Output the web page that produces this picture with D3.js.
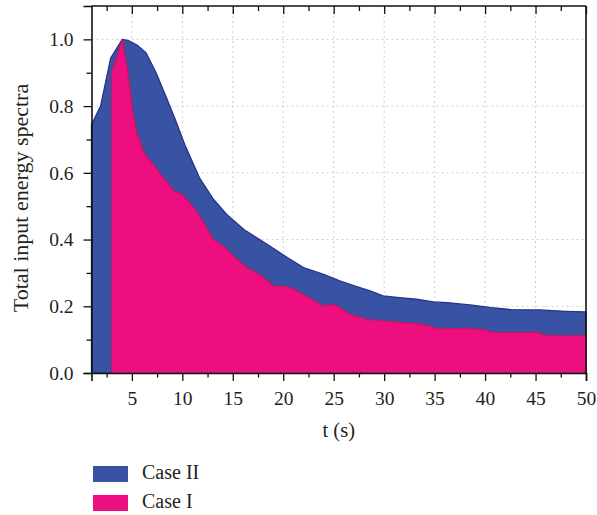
<!DOCTYPE html>
<html>
<head>
<meta charset="utf-8">
<script src="https://cdn.jsdelivr.net/npm/d3@7"></script>
<style>
  body { margin: 0; background: #fff; }
  svg { display: block; }
  text { font-family: 'Liberation Serif', 'Times New Roman', serif; fill: #231f20; }
</style>
</head>
<body>
<div id="chart"></div>
<script>
// Case II (blue, upper envelope)
const caseIIt = [1, 1.9, 2.9, 4.05, 4.7, 5.5, 6.4, 7.4, 8.5, 9.3, 10.3, 11.7, 13.1, 14.4, 16.1, 18.4,
  20.4, 22.0, 24.0, 25.6, 26.6, 28.6, 29.9, 31.5, 33.2, 34.9, 36.2, 38.5, 40.6, 42.6, 45.4, 48, 50];
const caseIIv = [0.744, 0.80, 0.944, 1.0, 0.996, 0.983, 0.96, 0.90, 0.82, 0.76, 0.68, 0.585, 0.52, 0.475, 0.43, 0.386,
  0.346, 0.316, 0.296, 0.276, 0.266, 0.246, 0.231, 0.226, 0.221, 0.213, 0.211, 0.204, 0.196, 0.190, 0.189, 0.185, 0.183];

// Case I (pink) starts at t = 3 s
const caseIt = [3.0, 4.05, 4.6, 5.1, 5.5, 6.2, 7.0, 8.0, 9.2, 10.0, 11.3, 12.3, 13.1, 14.1, 15.1, 16.4, 17.6,
  19.1, 20.4, 21.4, 22.8, 24.0, 25.0, 25.6, 26.6, 28.3, 29.9, 31.5, 33.2, 34.6, 35.2, 38.5, 40.1, 40.8, 45.1, 46.2, 50];
const caseIv = [0.90, 1.0, 0.90, 0.78, 0.72, 0.66, 0.63, 0.59, 0.545, 0.535, 0.49, 0.44, 0.40, 0.38, 0.35, 0.316, 0.296,
  0.26, 0.259, 0.246, 0.221, 0.201, 0.206, 0.196, 0.176, 0.161, 0.156, 0.152, 0.149, 0.141, 0.134, 0.133, 0.129, 0.122, 0.122, 0.112, 0.112];

// Ticks
const xMajor = [5, 10, 15, 20, 25, 30, 35, 40, 45, 50];
const xMinor = [2.5, 7.5, 12.5, 17.5, 22.5, 27.5, 32.5, 37.5, 42.5, 47.5];
const yMajor = [0, 0.2, 0.4, 0.6, 0.8, 1.0];
const yMinor = [0.1, 0.3, 0.5, 0.7, 0.9];

const seriesNames = ['Case II', 'Case I'];
const fillColors = ['#3953a4', '#ed0f80'];
const strokeColors = ['#27328a', '#c2185e'];

const width = 597;
const height = 515;
const margin = { top: 6, right: 11, bottom: 142, left: 91.5 };
const innerW = width - margin.left - margin.right;
const innerH = height - margin.top - margin.bottom;

const svg = d3.select('#chart')
  .append('svg')
  .attr('width', width)
  .attr('height', height);

const g = svg.append('g')
  .attr('transform', `translate(${margin.left},${margin.top})`);

const x = d3.scaleLinear().domain([1, 50]).range([0, innerW]);
const y = d3.scaleLinear().domain([0, 1.1]).range([innerH, 0]);

// dotted grid
g.append('g')
  .selectAll('line')
  .data(xMajor.filter(d => d < 50))
  .enter()
  .append('line')
  .attr('x1', d => x(d)).attr('x2', d => x(d))
  .attr('y1', 0).attr('y2', innerH)
  .attr('stroke', '#cfcfcf')
  .attr('stroke-dasharray', '2,3');

g.append('g')
  .selectAll('line')
  .data(yMajor.filter(d => d > 0))
  .enter()
  .append('line')
  .attr('x1', 0).attr('x2', innerW)
  .attr('y1', d => y(d)).attr('y2', d => y(d))
  .attr('stroke', '#cfcfcf')
  .attr('stroke-dasharray', '2,3');

// areas
const area = d3.area()
  .x(d => x(d[0]))
  .y0(y(0))
  .y1(d => y(d[1]));

const caseII = caseIIt.map((t, i) => [t, caseIIv[i]]);
const caseI = caseIt.map((t, i) => [t, caseIv[i]]);

[caseII, caseI].forEach((data, i) => {
  g.append('path')
    .datum(data)
    .attr('d', area)
    .attr('fill', fillColors[i])
    .attr('stroke', strokeColors[i])
    .attr('stroke-width', 1.3)
    .attr('stroke-linejoin', 'round');
});

// axes
const xAxis = g.append('g')
  .attr('transform', `translate(0,${innerH})`)
  .call(d3.axisBottom(x).tickValues(xMajor).tickSize(8).tickPadding(10));
xAxis.selectAll('text').style('font-size', '19.5px');

g.append('g')
  .attr('transform', `translate(0,${innerH})`)
  .call(d3.axisBottom(x).tickValues(xMinor).tickSize(4.5).tickFormat(''))
  .select('.domain').remove();

const yAxis = g.append('g')
  .call(d3.axisLeft(y).tickValues(yMajor).tickSize(8).tickPadding(10).tickFormat(d3.format('.1f')));
yAxis.selectAll('text').style('font-size', '19.5px');

g.append('g')
  .call(d3.axisLeft(y).tickValues(yMinor).tickSize(5).tickFormat(''))
  .select('.domain').remove();

// top ticks point inward
g.append('g')
  .call(d3.axisTop(x).tickValues(xMajor).tickSize(-8).tickFormat(''))
  .select('.domain').remove();
g.append('g')
  .call(d3.axisTop(x).tickValues(xMinor).tickSize(-5).tickFormat(''))
  .select('.domain').remove();

g.selectAll('.domain').attr('stroke', '#111').attr('stroke-width', 1.6);
g.selectAll('.tick line').attr('stroke', '#111').attr('stroke-width', 1.3);

// frame top and right
g.append('line')
  .attr('x1', 0).attr('x2', innerW).attr('y1', 0).attr('y2', 0)
  .attr('stroke', '#111').attr('stroke-width', 1.6);
g.append('line')
  .attr('x1', innerW).attr('x2', innerW).attr('y1', 0).attr('y2', innerH)
  .attr('stroke', '#111').attr('stroke-width', 1.6);

// axis titles
g.append('text')
  .attr('x', innerW / 2)
  .attr('y', innerH + 64)
  .attr('text-anchor', 'middle')
  .style('font-size', '20.5px')
  .text('t (s)');

svg.append('text')
  .attr('transform', 'rotate(-90)')
  .attr('x', -198)
  .attr('y', 28)
  .attr('text-anchor', 'middle')
  .style('font-size', '22px')
  .text('Total input energy spectra');

// legend
const legend = svg.append('g')
  .attr('transform', 'translate(93,466)');

seriesNames.forEach((name, i) => {
  legend.append('rect')
    .attr('x', 0)
    .attr('y', i * 29)
    .attr('width', 35)
    .attr('height', 16)
    .attr('fill', fillColors[i]);
  legend.append('text')
    .attr('x', 49)
    .attr('y', i * 29 + 13)
    .style('font-size', '20px')
    .text(name);
});
</script>
</body>
</html>
